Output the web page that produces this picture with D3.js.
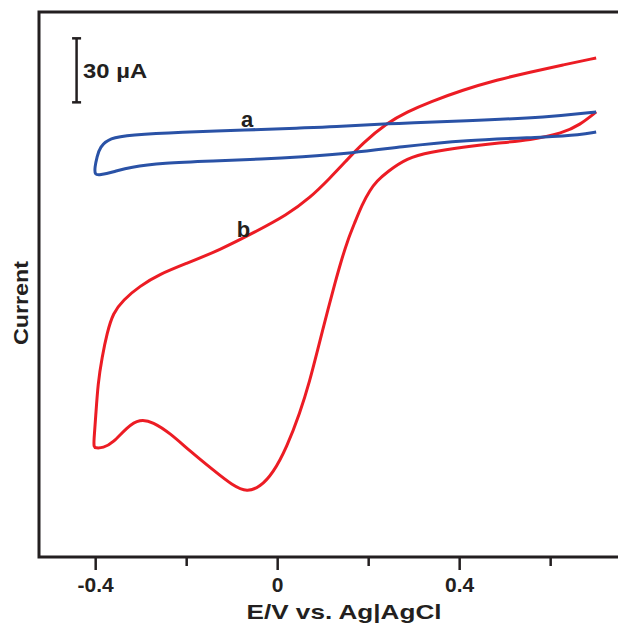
<!DOCTYPE html>
<html>
<head>
<meta charset="utf-8">
<script src="https://cdn.jsdelivr.net/npm/d3@7"></script>
<style>
  html, body { margin: 0; padding: 0; background: #fff; }
  svg { display: block; }
  text { font-family: "Liberation Sans", Arial, sans-serif; font-weight: bold; fill: #231f20; }
</style>
</head>
<body>
<script>
// ---- data (E in V vs Ag|AgCl, current in µA, arbitrary zero) ----
const curveA_E = [0.70, 0.598, 0.407, 0.269, 0.115, 0.049, -0.067, -0.215, -0.325, -0.369, -0.391, -0.397, -0.402, -0.402,
                  -0.391, -0.362, -0.325, -0.252, -0.142, -0.032, 0.049, 0.165, 0.269, 0.407, 0.598, 0.664, 0.70];
const curveA_I = [15.5, 13.1, 11.2, 10.3, 8.4, 8.0, 7.0, 6.1, 4.7, 3.3, -0.9, -5.6, -10.3, -14.1,
                  -14.1, -12.7, -10.3, -8.4, -7.5, -6.6, -5.6, -3.75, -0.9, 2.3, 3.75, 4.7, 6.1];

const curveB_E = [0.70, 0.627, 0.555, 0.482, 0.407, 0.335, 0.284, 0.240, 0.187, 0.148, 0.115, 0.071, 0.020, -0.050,
                  -0.127, -0.204, -0.259, -0.303, -0.340, -0.362, -0.375, -0.386, -0.395, -0.400, -0.404, -0.404,
                  -0.400, -0.384, -0.362, -0.331, -0.303, -0.274, -0.237, -0.193, -0.142, -0.098, -0.067, -0.039,
                  -0.010, 0.020, 0.049, 0.071, 0.086, 0.113, 0.126, 0.139, 0.154, 0.170, 0.185, 0.203, 0.218,
                  0.240, 0.284, 0.335, 0.407, 0.482, 0.555, 0.627, 0.664, 0.70];
const curveB_I = [40.8, 37.5, 34.2, 30.5, 25.8, 20.2, 15.5, 10.3, 0.9, -8.0, -15.5, -24.8, -32.8, -40.8,
                  -49.2, -55.8, -60.5, -66.1, -72.7, -78.8, -88.1, -99.4, -111.6, -127.5, -138.3, -141.6,
                  -142.0, -142.0, -139.7, -132.2, -128.4, -129.8, -135.0, -143.4, -152.3, -159.8, -162.7, -160.3,
                  -153.8, -141.6, -125.6, -110.2, -97.5, -75.0, -64.7, -54.8, -44.5, -36.1, -28.1, -21.1, -16.9,
                  -12.7, -6.1, -3.3, -0.9, 0.9, 2.3, 5.6, 9.4, 15.5];

const majorTicks = [-0.4, 0, 0.4];
const majorTickLabels = ["-0.4", "0", "0.4"];
const minorTicks = [-0.2, 0.2, 0.6];
const scaleBar = { E: -0.442, top: 50, size: 30, label: "30 µA" };
const curveLabels = [{ text: "a", E: -0.067, I: 8.4 }, { text: "b", E: -0.075, I: -43 }];
const xTitle = "E/V vs. Ag|AgCl";
const yTitle = "Current";

// ---- layout ----
const W = 618, H = 625;
const L = 39, T = 12, R = 618, B = 557;

const svg = d3.select("body").append("svg").attr("width", W).attr("height", H);

const x = d3.scaleLinear().domain([-0.5246, 0.748]).range([L, R]);
const y = d3.scaleLinear().domain([-193.1, 62.34]).range([B, T]);

// frame
svg.append("path")
  .attr("d", `M${R},${T}H${L}V${B}H${R}`)
  .attr("fill", "none").attr("stroke", "#231f20").attr("stroke-width", 3);

// x axis ticks
const ax = svg.append("g");
ax.selectAll(".maj").data(majorTicks).join("line")
  .attr("x1", d => x(d)).attr("x2", d => x(d))
  .attr("y1", B).attr("y2", B + 13)
  .attr("stroke", "#231f20").attr("stroke-width", 2.5);
ax.selectAll(".min").data(minorTicks).join("line")
  .attr("x1", d => x(d)).attr("x2", d => x(d))
  .attr("y1", B).attr("y2", B + 9)
  .attr("stroke", "#231f20").attr("stroke-width", 2.5);
ax.selectAll("text").data(majorTicks).join("text")
  .attr("x", d => x(d)).attr("y", 592)
  .attr("text-anchor", "middle").attr("font-size", 21)
  .text((d, i) => majorTickLabels[i]);

svg.append("text").attr("x", 344).attr("y", 619)
  .attr("text-anchor", "middle").attr("font-size", 21)
  .attr("textLength", 195).attr("lengthAdjust", "spacingAndGlyphs")
  .text(xTitle);

svg.append("text")
  .attr("transform", "translate(28,303) rotate(-90)")
  .attr("text-anchor", "middle").attr("font-size", 21)
  .attr("textLength", 84).attr("lengthAdjust", "spacingAndGlyphs")
  .text(yTitle);

// scale bar
const sbx = x(scaleBar.E);
const sb = svg.append("g").attr("stroke", "#231f20").attr("stroke-width", 2.5);
sb.append("line").attr("x1", sbx).attr("x2", sbx).attr("y1", y(scaleBar.top)).attr("y2", y(scaleBar.top - scaleBar.size));
sb.append("line").attr("x1", sbx - 4.5).attr("x2", sbx + 4.5).attr("y1", y(scaleBar.top)).attr("y2", y(scaleBar.top));
sb.append("line").attr("x1", sbx - 4.5).attr("x2", sbx + 4.5).attr("y1", y(scaleBar.top - scaleBar.size)).attr("y2", y(scaleBar.top - scaleBar.size));
svg.append("text").attr("x", sbx + 6.5).attr("y", y(scaleBar.top - scaleBar.size / 2) + 7.5)
  .attr("font-size", 21).attr("textLength", 64).attr("lengthAdjust", "spacingAndGlyphs")
  .text(scaleBar.label);

// curves
const line = d3.line().x(d => x(d[0])).y(d => y(d[1])).curve(d3.curveBasis);
const dataA = curveA_E.map((e, i) => [e, curveA_I[i]]);
const dataB = curveB_E.map((e, i) => [e, curveB_I[i]]);

svg.append("path").datum(dataB).attr("d", line)
  .attr("fill", "none").attr("stroke", "#ec1c24").attr("stroke-width", 3).attr("stroke-linejoin", "round");
svg.append("path").datum(dataA).attr("d", line)
  .attr("fill", "none").attr("stroke", "#2a52a6").attr("stroke-width", 3).attr("stroke-linejoin", "round");

// curve labels
svg.selectAll(".cl").data(curveLabels).join("text")
  .attr("x", d => x(d.E)).attr("y", d => y(d.I))
  .attr("text-anchor", "middle").attr("font-size", 22)
  .text(d => d.text);
</script>
</body>
</html>
